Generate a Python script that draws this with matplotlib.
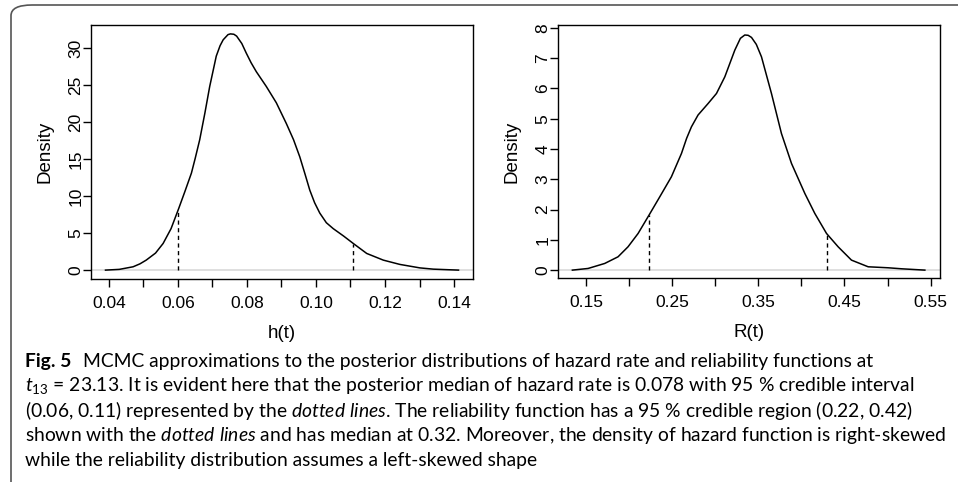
import numpy as np
import matplotlib.pyplot as plt
from matplotlib.patches import FancyBboxPatch

# h(t) posterior density
h_x = [0.039, 0.043, 0.047, 0.049, 0.0508, 0.0535, 0.0557, 0.058, 0.0602, 0.062, 0.0639,
       0.065, 0.0663, 0.0678, 0.0692, 0.0711, 0.0722, 0.0731, 0.0745, 0.0752, 0.0762,
       0.077, 0.0785, 0.0798, 0.0812, 0.0827, 0.0856, 0.0885, 0.0914, 0.0935, 0.0953,
       0.0968, 0.0982, 0.0996, 0.1011, 0.103, 0.105, 0.108, 0.1108, 0.1147, 0.1195,
       0.1243, 0.1301, 0.134, 0.1413]
h_y = [0.0, 0.1, 0.45, 0.85, 1.35, 2.3, 3.6, 5.6, 8.3, 10.6, 13.1,
       15.1, 17.6, 21.2, 24.8, 28.9, 30.3, 31.1, 31.8, 31.9, 31.85,
       31.6, 30.6, 29.3, 28.0, 26.8, 24.8, 22.6, 19.8, 17.6, 15.3,
       13.0, 10.8, 9.1, 7.7, 6.4, 5.6, 4.6, 3.6, 2.25, 1.35,
       0.77, 0.3, 0.13, 0.0]
h_ci = [0.0601, 0.1108]
h_ci_top = [8.2, 3.5]

# R(t) posterior density
r_x = [0.1337, 0.152, 0.1713, 0.1868, 0.1984, 0.2101, 0.2229, 0.2353, 0.2488, 0.2605,
       0.2665, 0.2721, 0.2798, 0.2915, 0.3012, 0.3109, 0.3225, 0.329, 0.3341, 0.338,
       0.3419, 0.3475, 0.3535, 0.3651, 0.3767, 0.3884, 0.4039, 0.4155, 0.4291, 0.4426,
       0.4581, 0.4775, 0.5008, 0.5163, 0.5434]
r_y = [0.0, 0.055, 0.22, 0.44, 0.77, 1.21, 1.82, 2.42, 3.08, 3.85,
       4.35, 4.73, 5.12, 5.5, 5.83, 6.38, 7.26, 7.65, 7.76, 7.75,
       7.68, 7.45, 7.04, 5.83, 4.51, 3.52, 2.53, 1.87, 1.21, 0.77,
       0.33, 0.11, 0.077, 0.044, 0.0]
r_ci = [0.2229, 0.4291]
r_ci_top = [1.82, 1.2]

h_ticks = [0.04, 0.05, 0.06, 0.07, 0.08, 0.09, 0.10, 0.11, 0.12, 0.13, 0.14]
h_labels = ['0.04', '', '0.06', '', '0.08', '', '0.10', '', '0.12', '', '0.14']
r_ticks = [0.15, 0.20, 0.25, 0.30, 0.35, 0.40, 0.45, 0.50, 0.55]
r_labels = ['0.15', '', '0.25', '', '0.35', '', '0.45', '', '0.55']

caption = [
    "MCMC approximations to the posterior distributions of hazard rate and reliability functions at",
    "$t_{13}$ = 23.13. It is evident here that the posterior median of hazard rate is 0.078 with 95 % credible interval",
    "(0.06, 0.11) represented by the $\\it{dotted\\ lines}$. The reliability function has a 95 % credible region (0.22, 0.42)",
    "shown with the $\\it{dotted\\ lines}$ and has median at 0.32. Moreover, the density of hazard function is right-skewed",
    "while the reliability distribution assumes a left-skewed shape",
]

plt.rcParams['font.family'] = ['Liberation Sans', 'DejaVu Sans']
plt.rcParams['mathtext.fontset'] = 'custom'
plt.rcParams['mathtext.rm'] = 'Lato'
plt.rcParams['mathtext.it'] = 'Lato:italic'

fig = plt.figure(figsize=(9.58, 4.82), dpi=100)

# frame of the figure box (rounded top-left corner)
box = FancyBboxPatch((11 / 958, -0.2), 1.2, (482 - 5) / 482 + 0.2,
                     boxstyle="round,pad=0,rounding_size=0.022",
                     transform=fig.transFigure, fill=False, edgecolor='#555555', lw=1.2)
fig.patches.append(box)

ax1 = fig.add_axes([91 / 958, 1 - 279 / 482, 382 / 958, 254 / 482])
ax2 = fig.add_axes([558 / 958, 1 - 278 / 482, 382 / 958, 253 / 482])

panels = [
    (ax1, h_x, h_y, h_ci, h_ci_top, h_ticks, h_labels, (0.0348, 0.1455), (-1.2, 33.1),
     [0, 5, 10, 15, 20, 25, 30], 'h(t)'),
    (ax2, r_x, r_y, r_ci, r_ci_top, r_ticks, r_labels, (0.117, 0.561), (-0.26, 8.09),
     [0, 1, 2, 3, 4, 5, 6, 7, 8], 'R(t)'),
]

for ax, xs, ys, ci, ci_top, xt, xl, xlim, ylim, yt, xlab in panels:
    ax.axhline(0, color='#d9d9d9', lw=1.2, zorder=1)
    ax.plot(xs, ys, color='black', lw=1.1, zorder=3)
    for c, top in zip(ci, ci_top):
        ax.plot([c, c], [0, top], color='black', lw=1.0, ls=(0, (3, 2.5)), zorder=2)
    ax.set_xlim(*xlim)
    ax.set_ylim(*ylim)
    ax.set_xticks(xt)
    ax.set_xticklabels(xl)
    ax.set_yticks(yt)
    ax.set_yticklabels([str(v) for v in yt], rotation=90, va='center')
    ax.tick_params(axis='both', length=5.5, width=1, labelsize=12.5)
    ax.tick_params(axis='y', pad=0)
    ax.tick_params(axis='x', pad=6.5)
    for s in ax.spines.values():
        s.set_linewidth(1.0)
    ax.set_ylabel('Density', fontsize=13.5, labelpad=11)
    ax.set_xlabel(xlab, fontsize=13.5, labelpad=10)

# caption
y0 = 1 - 361 / 482
dy = 24.8 / 482
fs = 13.85
fig.text(25 / 958, y0, 'Fig. 5', fontsize=fs, fontweight='bold', family='Lato', va='center')
fig.text(83 / 958, y0, caption[0], fontsize=fs, family='Lato', va='center')
for i, line in enumerate(caption[1:], start=1):
    fig.text(25 / 958, y0 - i * dy, line, fontsize=fs, family='Lato', va='center')

fig.savefig('out.png', dpi=100)
